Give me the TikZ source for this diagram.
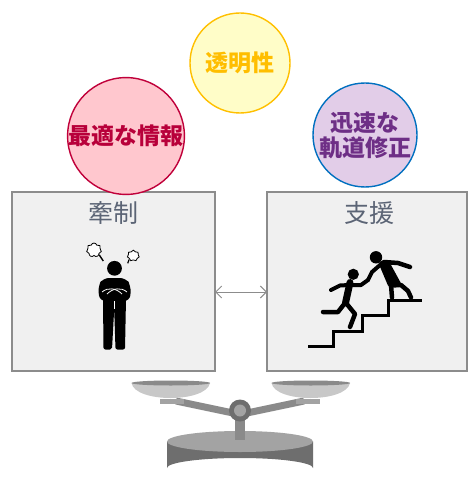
\documentclass[tikz,border=0pt]{standalone}
\usepackage{fontspec}
\newfontfamily\cjk{Noto Sans CJK JP}
\usetikzlibrary{shapes.symbols,arrows.meta}
\definecolor{boxfill}{HTML}{F0F0F0}
\definecolor{boxline}{HTML}{8C8C8C}
\definecolor{titlecol}{HTML}{5B6475}
\definecolor{redfill}{HTML}{FFC7CE}
\definecolor{redline}{HTML}{C0003A}
\definecolor{redtext}{HTML}{B8003A}
\definecolor{yelfill}{HTML}{FFFDC8}
\definecolor{yelline}{HTML}{FFC000}
\definecolor{yeltext}{HTML}{FFBE00}
\definecolor{purfill}{HTML}{E2CDE8}
\definecolor{purline}{HTML}{0070C0}
\definecolor{purtext}{HTML}{6E2F86}
\definecolor{scaleA}{HTML}{C8C8C8}
\definecolor{scaleB}{HTML}{8A8A8A}
\definecolor{scaleC}{HTML}{A3A3A3}
\definecolor{scaleD}{HTML}{6E6E6E}
\tikzset{
  panel/.style={draw=boxline, line width=1.5pt, fill=boxfill},
  title/.style={font=\cjk\fontsize{25}{28}\selectfont, text=titlecol},
  bubble/.style={circle, minimum size=#1, inner sep=0pt, line width=1.4pt},
  bubbletext/.style={font=\cjk\bfseries\fontsize{23}{27}\selectfont, align=center},
  stick/.style={line width=5pt, line cap=round, line join=round},
  stair/.style={line width=3pt, line join=miter},
  cloudlet/.style={cloud, cloud puffs=7, draw=black, line width=0.8pt, fill=white, inner sep=0pt},
}
\begin{document}
\begin{tikzpicture}[x=1pt,y=-1pt]
\useasboundingbox (0,0) rectangle (468,481);
\fill[white] (0,0) rectangle (468,481);

% panels
\draw[panel] (12,192) rectangle (215,371);
\draw[panel] (267,192) rectangle (467.2,371);
\node[title] (tl) at (113,213) {牽制};
\node[title] (tr) at (369,213) {支援};

% connector between the panels
\coordinate (pl) at (215,292);
\coordinate (pr) at (267,292);
\draw[boxline, line width=1pt, {Straight Barb[length=6pt,width=12pt]}-{Straight Barb[length=6pt,width=12pt]}] (pl) -- (pr);

% value bubbles
\node[bubble=104pt, draw=redline, fill=redfill, text=redtext, bubbletext] (c1) at (126,136) {最適な情報};
\node[bubble=100pt, draw=yelline, fill=yelfill, text=yeltext, bubbletext] (c2) at (240,63) {透明性};
\node[bubble=104pt, draw=purline, fill=purfill, text=purtext, bubbletext] (c3) at (365,135) {迅速な\\[-2pt]軌道修正};

% standing figure with crossed arms
\fill (114.5,268.3) circle (7.4);
\fill[rounded corners=6pt] (99.5,301) -- (98,286) -- (103,278) -- (126,278) -- (131,286) -- (130,301) -- cycle;
\fill[rounded corners=2pt] (103,298) -- (126,298) -- (125,349.5) -- (115.5,349.5) -- (114.2,309) -- (112,349.5) -- (103.5,349.5) -- cycle;
\draw[white, line width=0.8pt] (102,292) .. controls (108,287) and (116,288) .. (122,294);
\draw[white, line width=0.8pt] (127,292) .. controls (121,287) and (113,288) .. (107,294);
\draw[white, line width=0.8pt] (114.3,301) -- (114.3,309);
\node[cloudlet, minimum width=15pt, minimum height=14pt] (b1) at (94,250) {};
\node[cloudlet, minimum width=12pt, minimum height=11pt] (b2) at (133.3,255.7) {};
\draw[line width=1.4pt] (b1.south east) -- (103.3,261);
\draw[line width=1.2pt] (b2.south west) -- (127.7,263.3);

% stairs
\draw[stair] (308,346.5) -- (333.5,346.5) -- (333.5,331) -- (362,331) -- (362,315.5) -- (388.5,315.5) -- (388.5,300) -- (422,300);

% climbing figure
\fill (353.3,274.3) circle (5.6);
\draw[stick, line width=7pt] (350,282.5) -- (345.5,303);
\draw[stick, line width=4pt] (351,285) -- (361,285) -- (368,280);
\draw[stick, line width=4pt] (349,285) -- (340,285.5) -- (331,290);
\draw[stick, line width=4.5pt] (346,303) -- (355,314) -- (350,327);
\draw[stick, line width=4.5pt] (345,303) -- (338,312) -- (323,312);
% helping figure
\fill (376,257.3) circle (6.2);
\fill[rounded corners=3pt] (378,262) -- (388,259.5) -- (403,287) -- (389,288) -- cycle;
\draw[stick, line width=4pt] (380,265) -- (372,272) -- (368,280);
\draw[stick, line width=4.5pt] (384,262) -- (398,263) -- (410,267);
\draw[stick, line width=4.5pt] (391,285) -- (392,297.5);
\draw[stick, line width=4.5pt] (401,285) -- (408,291) -- (411,297.5);

% balance scale
\fill[scaleD] (167,441.5) -- (167,468) arc[start angle=180,end angle=360,x radius=73,y radius=10] -- (313,441.5) -- cycle;
\fill[scaleC] (240,441.5) ellipse[x radius=73,y radius=10.5];
\fill[scaleB] (235,414) rectangle (245,440);
\draw[scaleB, line width=7pt, line join=round] (176,401) -- (233,413) -- (247,413) -- (304,401);
\fill[scaleC] (160,399) rectangle (184,404);
\fill[scaleC] (296,399) rectangle (320,404);
\fill[scaleA] (131.5,383) .. controls (135,403) and (206,403) .. (210,383) -- cycle;
\fill[scaleB] (170.8,383) ellipse[x radius=39.3,y radius=2.5];
\fill[scaleA] (271.5,383) .. controls (275,403) and (346,403) .. (350,383) -- cycle;
\fill[scaleB] (310.8,383) ellipse[x radius=39.3,y radius=2.5];
\fill[scaleD] (240,410.5) circle (11);
\fill[scaleC] (240,410.5) circle (6);
\end{tikzpicture}
\end{document}
